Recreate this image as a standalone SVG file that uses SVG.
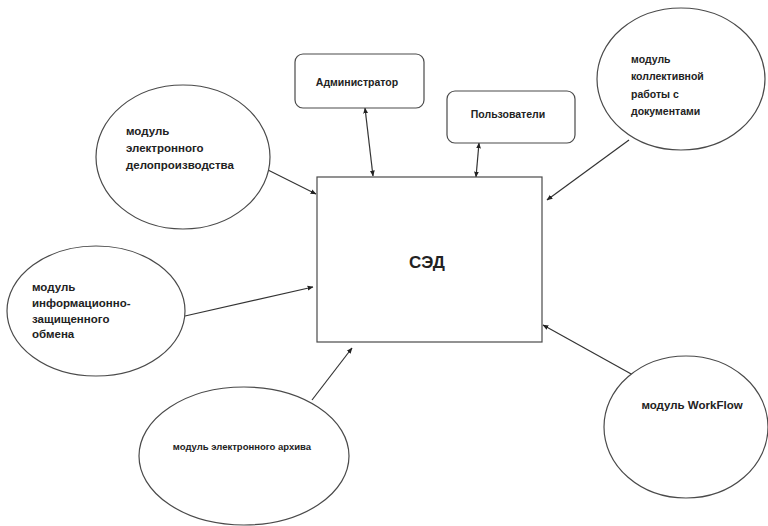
<svg xmlns="http://www.w3.org/2000/svg" width="768" height="526" viewBox="0 0 768 526">
<style>
.sh{fill:#fff;stroke:#4a4a4a;stroke-width:1.2}
.t{font-family:"Liberation Sans",Arial,sans-serif;font-weight:bold;font-size:11.5px;fill:#222}
.c{stroke:#333;stroke-width:1.2;fill:none}
</style>
<defs>
<marker id="a" viewBox="0 0 10 10" refX="9" refY="5" markerWidth="6" markerHeight="6" orient="auto-start-reverse" markerUnits="userSpaceOnUse"><path d="M0,1 L10,5 L0,9 z" fill="#222"/></marker>
</defs>
<rect width="768" height="526" fill="#fff"/>
<g id="connectors">
<line class="c" x1="365" y1="108" x2="373" y2="176" marker-start="url(#a)" marker-end="url(#a)"/>
<line class="c" x1="479" y1="143" x2="476" y2="177" marker-start="url(#a)" marker-end="url(#a)"/>
<line class="c" x1="268" y1="170" x2="316" y2="194" marker-end="url(#a)"/>
<line class="c" x1="629" y1="140" x2="547" y2="200" marker-end="url(#a)"/>
<line class="c" x1="185" y1="316" x2="313" y2="287" marker-end="url(#a)"/>
<line class="c" x1="312" y1="400" x2="352" y2="348" marker-end="url(#a)"/>
<line class="c" x1="633" y1="375" x2="543" y2="325" marker-end="url(#a)"/>
</g>
<g id="sed">
<rect class="sh" x="317" y="177" width="225" height="165"/>
<text class="t" x="427" y="268" text-anchor="middle" style="font-size:17px">СЭД</text>
</g>
<g id="admin">
<rect class="sh" x="295" y="54" width="129" height="54" rx="8"/>
<text class="t" x="357" y="86" text-anchor="middle" style="font-size:10.5px">Администратор</text>
</g>
<g id="users">
<rect class="sh" x="447" y="91" width="128" height="52" rx="8"/>
<text class="t" x="508" y="118" text-anchor="middle" style="font-size:10.5px">Пользователи</text>
</g>
<g id="m1">
<ellipse class="sh" cx="183" cy="157" rx="87" ry="72"/>
<text class="t" x="126" y="135">модуль</text>
<text class="t" x="126" y="152">электронного</text>
<text class="t" x="126" y="169">делопроизводства</text>
</g>
<g id="m2">
<ellipse class="sh" cx="681" cy="79" rx="84" ry="71"/>
<text class="t" x="631" y="63" style="font-size:10.5px">модуль</text>
<text class="t" x="631" y="80" style="font-size:10.5px">коллективной</text>
<text class="t" x="631" y="98" style="font-size:10.5px">работы с</text>
<text class="t" x="631" y="115" style="font-size:10.5px">документами</text>
</g>
<g id="m3">
<ellipse class="sh" cx="96" cy="311" rx="89" ry="65"/>
<text class="t" x="32" y="291">модуль</text>
<text class="t" x="32" y="307">информационно-</text>
<text class="t" x="32" y="323">защищенного</text>
<text class="t" x="32" y="338">обмена</text>
</g>
<g id="m4">
<ellipse class="sh" cx="244" cy="456" rx="105" ry="69"/>
<text class="t" x="242" y="450" text-anchor="middle" style="font-size:9.5px">модуль электронного архива</text>
</g>
<g id="m5">
<ellipse class="sh" cx="686" cy="427" rx="82" ry="71"/>
<text class="t" x="692" y="409" text-anchor="middle">модуль WorkFlow</text>
</g>
</svg>
